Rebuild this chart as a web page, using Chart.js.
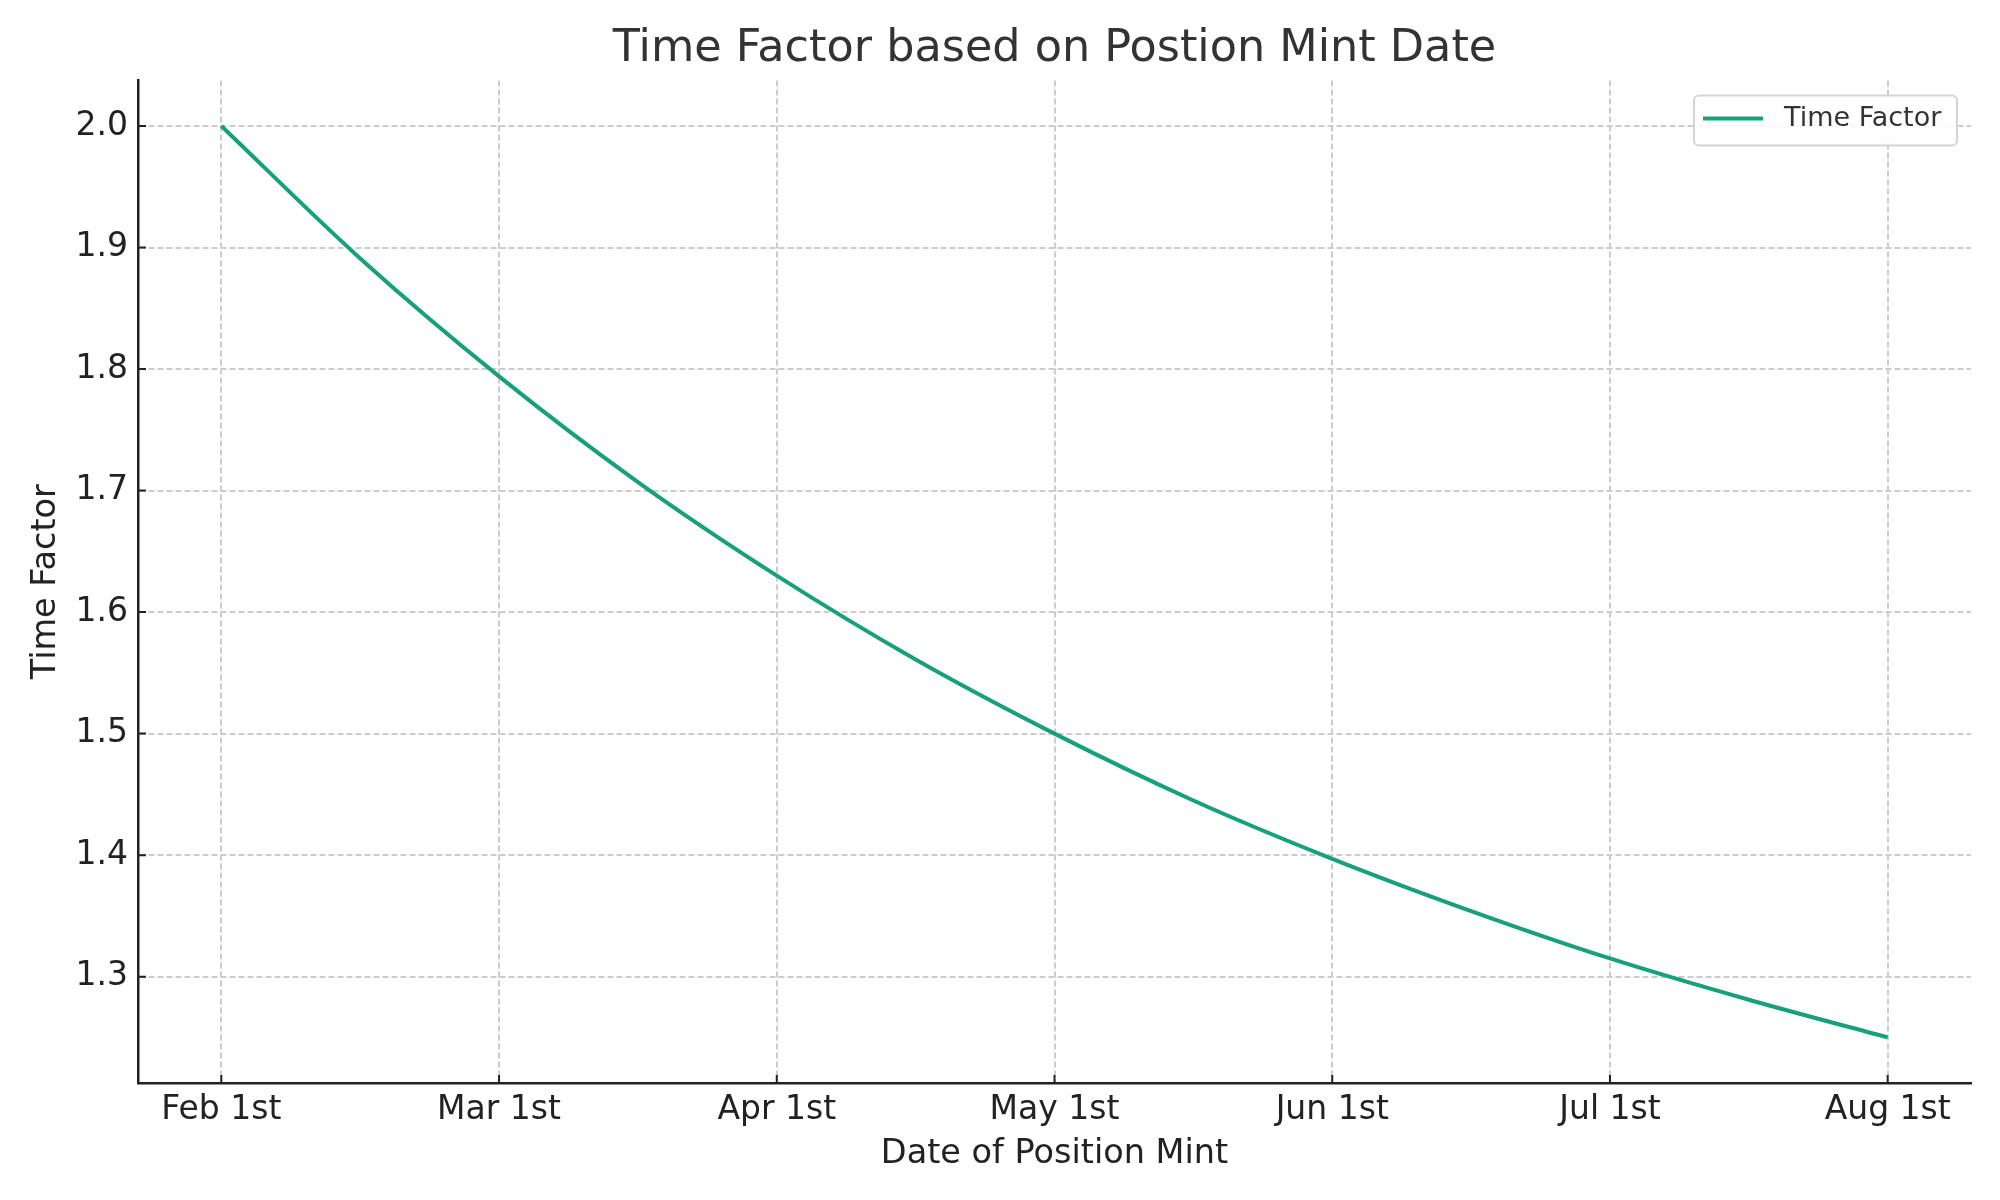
<!DOCTYPE html>
<html>
<head>
<meta charset="utf-8">
<script src="https://cdn.jsdelivr.net/npm/chart.js@4.4.0/dist/chart.umd.min.js"></script>
<style>
  body{margin:0;background:#fff;}
  #caja{width:2000px;height:1200px;}
</style>
</head>
<body>
<div id="caja"><canvas id="grafica_factor" width="2000" height="1200"></canvas></div>
<script>
const meses = ['Feb 1st', 'Mar 1st', 'Apr 1st', 'May 1st', 'Jun 1st', 'Jul 1st', 'Aug 1st'];
// months after Feb 1st, every half month
const posiciones = [0, 0.5, 1, 1.5, 2, 2.5, 3, 3.5, 4, 4.5, 5, 5.5, 6];
const factor = [2.0, 1.891, 1.794, 1.707, 1.630, 1.561, 1.500, 1.445, 1.397, 1.354, 1.315, 1.281, 1.250];
const ticksY = [1.3, 1.4, 1.5, 1.6, 1.7, 1.8, 1.9, 2.0];

(function(){
  const ctx = document.getElementById('grafica_factor');
  const verde = '#16a07c';

  // short tick marks pointing into the plot, like the original
  const marcasInternas = {
    id: 'marcasInternas',
    afterDraw(chart){
      const c = chart.ctx;
      const area = chart.chartArea;
      const x = chart.scales.x, y = chart.scales.y;
      c.save();
      c.strokeStyle = '#222';
      c.lineWidth = 2;
      c.beginPath();
      x.ticks.forEach((t, i) => {
        const px = x.getPixelForTick(i);
        c.moveTo(px, area.bottom);
        c.lineTo(px, area.bottom - 8);
      });
      y.ticks.forEach((t, i) => {
        const py = y.getPixelForTick(i);
        c.moveTo(area.left, py);
        c.lineTo(area.left + 8, py);
      });
      c.stroke();
      c.restore();
    }
  };

  // legend box inside the top right corner
  const leyenda = {
    id: 'leyenda',
    afterDatasetsDraw(chart){
      const c = chart.ctx;
      const area = chart.chartArea;
      const ds = chart.data.datasets[0];
      const w = 263, h = 50;
      const x0 = area.right - 14 - w, y0 = area.top + 15;
      c.save();
      c.beginPath();
      c.roundRect(x0, y0, w, h, 5);
      c.fillStyle = 'rgba(255,255,255,0.85)';
      c.fill();
      c.strokeStyle = '#d4d4d4';
      c.lineWidth = 2;
      c.stroke();
      c.beginPath();
      c.strokeStyle = ds.borderColor;
      c.lineWidth = 4;
      c.moveTo(x0 + 9, y0 + 23);
      c.lineTo(x0 + 69, y0 + 23);
      c.stroke();
      c.fillStyle = '#333';
      c.font = '27px "DejaVu Sans"';
      c.textBaseline = 'middle';
      c.fillText(ds.label, x0 + 90, y0 + 24);
      c.restore();
    }
  };

  new Chart(ctx, {
    type: 'line',
    data: {
      datasets: [{
        label: 'Time Factor',
        data: posiciones.map((p, i) => ({x: p, y: factor[i]})),
        borderColor: verde,
        backgroundColor: verde,
        borderWidth: 4,
        pointRadius: 0,
        cubicInterpolationMode: 'monotone'
      }]
    },
    options: {
      responsive: false,
      animation: false,
      devicePixelRatio: 1,
      layout: {
        autoPadding: false,
        padding: {left: 0, right: 29, top: 0, bottom: 0}
      },
      plugins: {
        legend: {display: false},
        tooltip: {enabled: false},
        title: {
          display: true,
          fullSize: false,
          text: 'Time Factor based on Postion Mint Date',
          color: '#333',
          font: {family: 'DejaVu Sans', size: 44.5, weight: 'normal'},
          padding: {top: 23, bottom: 4}
        }
      },
      scales: {
        x: {
          type: 'linear',
          min: -0.3,
          max: 6.3,
          afterFit(s){ s.height = 117; },
          afterBuildTicks(s){ s.ticks = meses.map((m, i) => ({value: i})); },
          ticks: {
            color: '#222',
            padding: 8,
            maxRotation: 0,
            font: {family: 'DejaVu Sans', size: 33},
            callback: (v) => meses[v]
          },
          grid: {color: '#cccccc', lineWidth: 2, drawTicks: false},
          border: {display: true, color: '#222', width: 2.5, dash: [6, 3]},
          title: {
            display: true,
            text: 'Date of Position Mint',
            color: '#222',
            font: {family: 'DejaVu Sans', size: 33.5},
            padding: {top: 0, bottom: 26}
          }
        },
        y: {
          min: 1.2125,
          max: 2.0375,
          afterFit(s){ s.width = 138; },
          afterBuildTicks(s){ s.ticks = ticksY.map(v => ({value: v})); },
          ticks: {
            color: '#222',
            padding: 10,
            font: {family: 'DejaVu Sans', size: 33},
            callback: (v) => v.toFixed(1)
          },
          grid: {color: '#cccccc', lineWidth: 2, drawTicks: false},
          border: {display: true, color: '#222', width: 2.5, dash: [6, 3]},
          title: {
            display: true,
            text: 'Time Factor',
            color: '#222',
            font: {family: 'DejaVu Sans', size: 33.5},
            padding: {top: 26, bottom: 0}
          }
        }
      }
    },
    plugins: [marcasInternas, leyenda]
  });
})();
</script>
</body>
</html>
